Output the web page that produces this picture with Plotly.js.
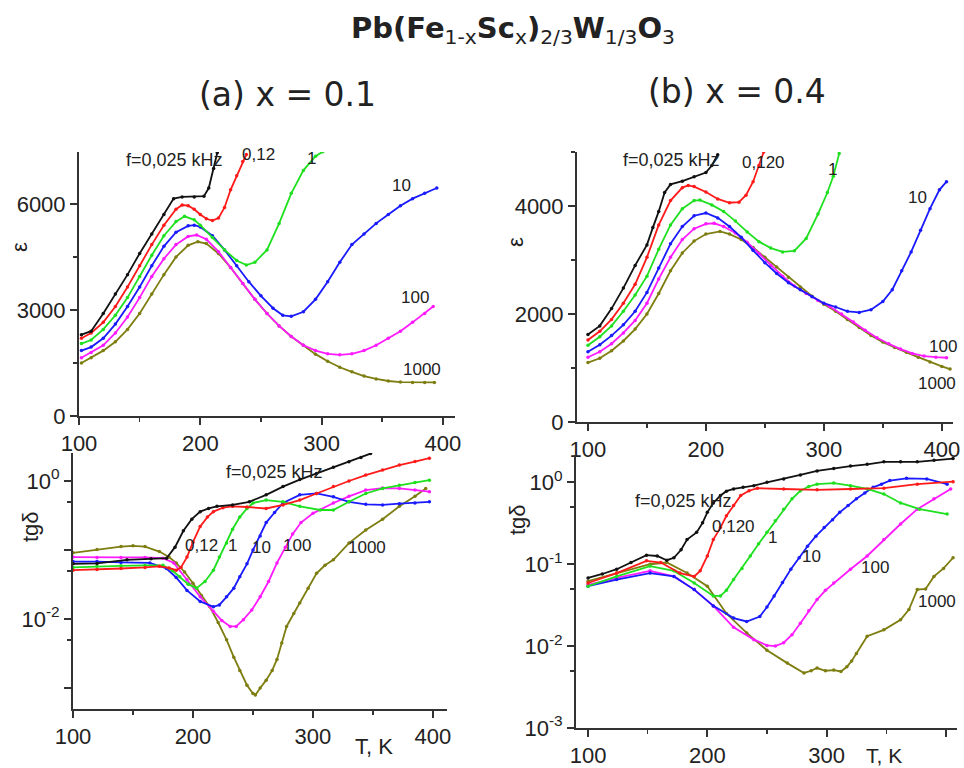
<!DOCTYPE html>
<html>
<head>
<meta charset="utf-8">
<script src="https://cdn.plot.ly/plotly-3.0.1.min.js"></script>
<style>html,body{margin:0;padding:0;background:#fff;}#chart{width:964px;height:768px;}</style>
</head>
<body>
<div id="chart"></div>
<script>
// ---------- (a) x = 0.1 : permittivity ----------
const Ta_e_f0025 = [102,110,120,130,140,150,160,170,178,185,195,203,207,211,214];
const a_e_f0025  = [2300,2400,2900,3450,4000,4600,5150,5700,6150,6200,6200,6220,6450,7000,7450];
const Ta_e_f012  = [102,110,120,130,140,150,160,170,180,185,190,195,200,205,210,215,220,225,230,235,238];
const a_e_f012   = [2200,2350,2650,3100,3650,4250,4850,5400,5850,5970,5950,5850,5700,5580,5530,5600,5900,6400,6800,7200,7400];
const Ta_e_f1    = [102,110,120,130,140,150,160,170,180,187,195,200,210,220,230,238,245,255,265,275,285,295,301];
const a_e_f1     = [2050,2150,2450,2850,3350,3950,4550,5100,5500,5650,5550,5400,5050,4700,4400,4270,4350,4700,5450,6300,6950,7350,7480];
const Ta_e_f10   = [102,110,120,130,140,150,160,170,180,190,195,200,210,220,230,240,250,260,268,275,285,295,305,315,325,335,345,355,365,375,385,395];
const a_e_f10    = [1850,1950,2200,2600,3100,3650,4250,4800,5200,5380,5400,5350,5100,4700,4250,3800,3400,3050,2850,2820,2950,3300,3800,4350,4850,5150,5450,5700,5950,6150,6300,6450];
const Ta_e_f100  = [102,110,120,130,140,150,160,170,180,190,197,205,215,225,235,245,255,265,275,285,295,305,315,325,335,345,355,365,375,385,392];
const a_e_f100   = [1650,1800,2000,2350,2800,3350,3950,4450,4850,5080,5120,5000,4650,4200,3750,3300,2900,2550,2250,2000,1850,1760,1730,1760,1850,2000,2200,2400,2650,2900,3100];
const Ta_e_f1000 = [102,110,120,130,140,150,160,170,180,190,198,205,215,225,235,245,255,265,275,285,295,305,315,325,335,345,355,365,375,385,393];
const a_e_f1000  = [1500,1650,1850,2100,2450,2900,3450,4000,4500,4830,4930,4880,4600,4200,3750,3300,2900,2550,2250,2000,1750,1550,1380,1250,1130,1050,990,960,950,950,950];

// ---------- (a) x = 0.1 : loss tangent ----------
const Ta_t_f0025 = [100,120,145,165,178,185,192,199,206,213,220,233,247,261,275,289,303,317,330,340,348];
const a_t_f0025  = [0.063,0.064,0.072,0.075,0.076,0.11,0.19,0.28,0.36,0.40,0.43,0.45,0.50,0.63,0.83,1.05,1.29,1.58,1.9,2.2,2.5];
const Ta_t_f012  = [100,120,140,160,172,180,186,190,195,200,206,212,217,225,233,245,261,275,289,303,317,330,344,358,372,385,397];
const a_t_f012   = [0.051,0.052,0.054,0.056,0.058,0.055,0.051,0.056,0.079,0.13,0.22,0.30,0.36,0.41,0.43,0.42,0.40,0.45,0.53,0.66,0.83,1.0,1.22,1.45,1.70,1.91,2.14];
const Ta_t_f1    = [100,120,140,160,175,183,189,196,203,210,217,222,228,233,239,245,250,261,275,289,306,317,330,344,358,372,385,397];
const a_t_f1     = [0.056,0.058,0.059,0.060,0.060,0.050,0.041,0.032,0.028,0.035,0.051,0.079,0.126,0.20,0.30,0.40,0.48,0.53,0.50,0.43,0.38,0.38,0.50,0.66,0.78,0.87,0.95,1.03];
const Ta_t_f10   = [100,120,140,164,178,186,195,206,217,222,228,234,239,245,250,256,261,268,275,289,303,317,330,344,358,372,385,397];
const a_t_f10    = [0.068,0.068,0.066,0.065,0.054,0.040,0.026,0.018,0.015,0.016,0.021,0.028,0.041,0.063,0.10,0.16,0.25,0.35,0.48,0.63,0.66,0.59,0.50,0.46,0.45,0.47,0.48,0.50];
const Ta_t_f100  = [100,120,140,160,175,184,195,206,217,224,231,236,242,249,256,263,270,277,283,290,300,317,330,344,358,372,385,397];
const a_t_f100   = [0.079,0.078,0.078,0.078,0.076,0.065,0.037,0.021,0.013,0.0095,0.0078,0.0078,0.0098,0.0135,0.021,0.035,0.065,0.11,0.17,0.25,0.34,0.48,0.60,0.74,0.79,0.78,0.74,0.70];
const Ta_t_f1000 = [100,120,140,150,160,172,180,186,193,200,207,214,221,228,234,239,245,250,252,256,261,266,270,274,278,284,289,296,303,310,317,330,344,358,372,385,394];
const a_t_f1000  = [0.091,0.102,0.112,0.115,0.112,0.095,0.079,0.065,0.048,0.033,0.022,0.015,0.0089,0.0050,0.0028,0.0018,0.0011,0.00083,0.00079,0.0010,0.0013,0.0018,0.0026,0.0045,0.0078,0.012,0.017,0.028,0.046,0.060,0.072,0.126,0.195,0.28,0.43,0.60,0.78];

// ---------- (b) x = 0.4 : permittivity ----------
const Tb_e_f0025 = [100,110,120,130,140,150,155,160,165,170,180,190,200,205,210];
const b_e_f0025  = [1620,1780,2100,2480,2900,3280,3600,3900,4250,4400,4460,4540,4620,4750,4950];
const Tb_e_f012  = [100,110,120,130,140,150,160,170,180,185,190,200,210,220,228,234,240,245,249];
const b_e_f012   = [1520,1680,1900,2200,2550,3050,3650,4100,4340,4380,4360,4260,4130,4060,4070,4200,4450,4750,5000];
const Tb_e_f1    = [100,110,120,130,140,150,160,170,180,190,195,205,215,225,235,245,255,265,275,285,295,303,308,313];
const b_e_f1     = [1420,1580,1780,2050,2350,2700,3200,3650,3950,4100,4110,4020,3900,3720,3520,3340,3220,3150,3170,3400,3850,4250,4550,4970];
const Tb_e_f10   = [100,110,120,130,140,150,160,170,180,190,200,210,220,230,240,250,260,270,280,290,300,310,320,330,340,350,358,366,374,382,390,398,404];
const b_e_f10    = [1300,1430,1600,1800,2050,2400,2850,3300,3620,3820,3870,3780,3620,3420,3180,2950,2750,2580,2450,2320,2200,2130,2050,2030,2080,2230,2450,2800,3150,3550,3950,4300,4450];
const Tb_e_f100  = [100,110,120,130,140,150,160,170,180,190,200,207,215,225,235,245,255,265,275,285,295,305,315,325,335,345,355,365,375,385,395,404];
const b_e_f100   = [1200,1300,1450,1650,1880,2200,2650,3050,3380,3580,3670,3680,3620,3500,3330,3120,2900,2700,2520,2380,2250,2140,2000,1850,1700,1560,1450,1350,1270,1220,1200,1190];
const Tb_e_f1000 = [100,110,120,130,140,150,160,170,180,190,200,212,220,230,240,250,260,270,280,290,300,310,320,330,340,350,360,370,380,390,400,407];
const b_e_f1000  = [1100,1180,1320,1500,1720,2000,2380,2800,3130,3350,3480,3530,3480,3380,3230,3050,2870,2680,2500,2330,2180,2050,1900,1750,1600,1480,1380,1290,1200,1110,1030,980];

// ---------- (b) x = 0.4 : loss tangent ----------
const Tb_t_f0025 = [100,112,124,136,149,158,166,172,178,183,191,196,200,205,211,216,222,230,239,250,264,278,292,306,320,334,348,362,376,390,406];
const b_t_f0025  = [0.068,0.076,0.087,0.105,0.129,0.126,0.112,0.12,0.15,0.20,0.245,0.32,0.43,0.56,0.69,0.78,0.83,0.87,0.91,1.0,1.10,1.23,1.38,1.48,1.58,1.66,1.78,1.78,1.78,1.86,1.95];
const Tb_t_f012  = [100,124,149,161,177,189,194,200,205,211,216,222,228,235,242,264,292,320,348,376,406];
const b_t_f012   = [0.059,0.078,0.11,0.105,0.078,0.071,0.083,0.126,0.20,0.28,0.39,0.52,0.69,0.79,0.85,0.83,0.81,0.83,0.85,0.95,1.02];
const Tb_t_f1    = [100,124,152,172,189,205,211,216,222,229,236,243,250,257,264,271,278,285,292,306,320,334,348,362,378,401];
const b_t_f1     = [0.054,0.071,0.095,0.083,0.059,0.041,0.041,0.048,0.065,0.089,0.126,0.178,0.245,0.34,0.47,0.63,0.79,0.89,0.95,0.98,0.91,0.83,0.72,0.56,0.47,0.41];
const Tb_t_f10   = [100,124,152,172,189,205,222,233,244,250,256,263,270,277,284,291,298,305,311,318,325,332,339,346,353,367,384,401];
const b_t_f10    = [0.054,0.065,0.078,0.071,0.049,0.031,0.022,0.020,0.023,0.030,0.041,0.060,0.087,0.12,0.166,0.22,0.28,0.35,0.43,0.52,0.63,0.74,0.87,0.95,1.05,1.12,1.10,0.95];
const Tb_t_f100  = [100,124,152,172,189,205,222,239,250,257,264,271,278,285,292,299,306,320,334,348,362,376,390,404];
const b_t_f100   = [0.056,0.068,0.083,0.071,0.049,0.031,0.017,0.012,0.0102,0.0100,0.011,0.0138,0.019,0.027,0.037,0.048,0.059,0.087,0.126,0.20,0.31,0.47,0.63,0.83];
const Tb_t_f1000 = [100,124,152,166,183,200,216,233,250,267,281,287,292,299,306,312,317,321,325,334,348,362,369,376,383,390,398,406];
const b_t_f1000  = [0.062,0.078,0.10,0.105,0.078,0.054,0.025,0.0145,0.0089,0.0062,0.0047,0.0050,0.0054,0.0050,0.0051,0.0049,0.0056,0.0066,0.0081,0.0132,0.0158,0.021,0.028,0.049,0.050,0.071,0.089,0.12];

// ---------- ticks and labels ----------
const linTicksT = [100,200,300,400];
const epsTicksA = [0,3000,6000];
const epsTicksB = [0,2000,4000];
const logTickVals = [0.001,0.01,0.1,1];
const logTickTextA = [" "," 10<sup>-2</sup>"," "," 10<sup>0</sup>"];
const logTickTextB = ["10<sup>-3</sup>","10<sup>-2</sup>","10<sup>-1</sup>","10<sup>0</sup>"];
const logMinorVals = [0.005,0.05,0.5];
const seriesColors = ["#111111","#ff1a1a","#1ee01e","#1a1aff","#ff1aff","#7d7d10"];

const W = 964, H = 768;
const px = v => v / W, py = v => 1 - v / H;

function tr(x, y, c, xa, ya) {
  return {x: x, y: y, type: 'scatter', mode: 'lines+markers', xaxis: xa, yaxis: ya,
    line: {color: c, width: 1.8}, marker: {color: c, size: 3.5}, hoverinfo: 'skip'};
}
const C = seriesColors;
const data = [
  tr(Ta_e_f1000, a_e_f1000, C[5], 'x', 'y'),
  tr(Ta_e_f100, a_e_f100, C[4], 'x', 'y'),
  tr(Ta_e_f10, a_e_f10, C[3], 'x', 'y'),
  tr(Ta_e_f1, a_e_f1, C[2], 'x', 'y'),
  tr(Ta_e_f012, a_e_f012, C[1], 'x', 'y'),
  tr(Ta_e_f0025, a_e_f0025, C[0], 'x', 'y'),

  tr(Ta_t_f1000, a_t_f1000, C[5], 'x2', 'y2'),
  tr(Ta_t_f100, a_t_f100, C[4], 'x2', 'y2'),
  tr(Ta_t_f10, a_t_f10, C[3], 'x2', 'y2'),
  tr(Ta_t_f1, a_t_f1, C[2], 'x2', 'y2'),
  tr(Ta_t_f012, a_t_f012, C[1], 'x2', 'y2'),
  tr(Ta_t_f0025, a_t_f0025, C[0], 'x2', 'y2'),

  tr(Tb_e_f1000, b_e_f1000, C[5], 'x3', 'y3'),
  tr(Tb_e_f100, b_e_f100, C[4], 'x3', 'y3'),
  tr(Tb_e_f10, b_e_f10, C[3], 'x3', 'y3'),
  tr(Tb_e_f1, b_e_f1, C[2], 'x3', 'y3'),
  tr(Tb_e_f012, b_e_f012, C[1], 'x3', 'y3'),
  tr(Tb_e_f0025, b_e_f0025, C[0], 'x3', 'y3'),

  tr(Tb_t_f1000, b_t_f1000, C[5], 'x4', 'y4'),
  tr(Tb_t_f100, b_t_f100, C[4], 'x4', 'y4'),
  tr(Tb_t_f10, b_t_f10, C[3], 'x4', 'y4'),
  tr(Tb_t_f1, b_t_f1, C[2], 'x4', 'y4'),
  tr(Tb_t_f012, b_t_f012, C[1], 'x4', 'y4'),
  tr(Tb_t_f0025, b_t_f0025, C[0], 'x4', 'y4')
];

const tickFont = {family: 'Liberation Sans, Arial, sans-serif', size: 22, color: '#222'};
function ax(extra) {
  return Object.assign({
    showline: true, linecolor: '#333', linewidth: 2, mirror: false,
    ticks: 'outside', ticklen: 7, tickwidth: 2, tickcolor: '#333',
    showgrid: false, zeroline: false, tickfont: tickFont, fixedrange: true
  }, extra);
}
const minorLin = d => ({ticks: 'outside', ticklen: 4, tickwidth: 1.5, tickcolor: '#333', dtick: d, showgrid: false});
const minorLog = {ticks: 'outside', ticklen: 4, tickwidth: 1.5, tickcolor: '#333', tickmode: 'array', tickvals: logMinorVals, showgrid: false};

const lblFont = {family: 'Liberation Sans, Arial, sans-serif', size: 17, color: '#222'};
function lab(text, x, y, xr, yr, size) {
  return {text: text, x: x, y: y, xref: xr, yref: yr, showarrow: false,
    font: Object.assign({}, lblFont, size ? {size: size} : {}), xanchor: 'center', yanchor: 'middle'};
}
function paperText(text, x, y, size, angle, family) {
  return {text: text, x: px(x), y: py(y), xref: 'paper', yref: 'paper', showarrow: false,
    textangle: angle || 0, xanchor: 'center', yanchor: 'middle',
    font: {family: family || 'DejaVu Sans, sans-serif', size: size, color: '#222'}};
}
const sansFam = 'Liberation Sans, Arial, sans-serif';

const layout = {
  width: W, height: H,
  margin: {l: 0, r: 0, t: 0, b: 0},
  paper_bgcolor: '#fff', plot_bgcolor: '#fff',
  showlegend: false,
  title: {
    text: '<b>Pb(Fe</b><sub>1-x</sub><b>Sc</b><sub>x</sub><b>)</b><sub>2/3</sub><b>W</b><sub>1/3</sub><b>O</b><sub>3</sub>',
    x: px(513), xanchor: 'center', xref: 'paper',
    y: py(28), yanchor: 'middle', yref: 'paper',
    font: {family: 'DejaVu Sans, sans-serif', size: 29, color: '#222'}
  },
  xaxis: ax({domain: [px(79), px(455)], range: [100, 410], anchor: 'y', tickmode: 'array', tickvals: linTicksT, minor: minorLin(50)}),
  yaxis: ax({domain: [py(416), py(152)], range: [0, 7470], anchor: 'x', tickmode: 'array', tickvals: epsTicksA, minor: minorLin(1500)}),
  xaxis2: ax({domain: [px(73), px(447)], range: [100, 411.7], anchor: 'y2', tickmode: 'array', tickvals: linTicksT, minor: minorLin(50)}),
  yaxis2: ax({domain: [py(709), py(453)], type: 'log', range: [-3.304, 0.406], anchor: 'x2', tickmode: 'array', tickvals: logTickVals, ticktext: logTickTextA, minor: minorLog}),
  xaxis3: ax({domain: [px(577), px(953)], range: [90.7, 409.5], anchor: 'y3', tickmode: 'array', tickvals: linTicksT, minor: minorLin(50)}),
  yaxis3: ax({domain: [py(422), py(152)], range: [0, 5000], anchor: 'x3', tickmode: 'array', tickvals: epsTicksB, minor: minorLin(1000)}),
  xaxis4: ax({domain: [px(576), px(957)], range: [89.9, 409.3], anchor: 'y4', tickmode: 'array', tickvals: linTicksT, minor: minorLin(50)}),
  yaxis4: ax({domain: [py(728), py(455)], type: 'log', range: [-3, 0.334], anchor: 'x4', tickmode: 'array', tickvals: logTickVals, ticktext: logTickTextB, minor: minorLog}),
  annotations: [
    paperText('(a) x = 0.1', 287, 95, 33),
    paperText('(b) x = 0.4', 737, 92, 33),
    paperText('ε', 20, 247, 22, -90, sansFam),
    paperText('tgδ', 30, 527, 22, -90, sansFam),
    paperText('ε', 515, 242, 22, -90, sansFam),
    paperText('tgδ', 517, 520, 22, -90, sansFam),
    paperText('T, K', 374, 746, 22, 0, sansFam),
    paperText('T, K', 884, 755, 21, 0, sansFam),
    // (a) epsilon labels
    lab('f=0,025 kHz', 179, 7245, 'x', 'y', 18),
    lab('0,12', 247.6, 7385, 'x', 'y'),
    lab('1', 292, 7300, 'x', 'y'),
    lab('10', 366, 6536, 'x', 'y'),
    lab('100', 377, 3367, 'x', 'y'),
    lab('1000', 383, 1330, 'x', 'y'),
    // (a) tg labels (log axis -> log10 coordinates)
    lab('f=0,025 kHz', 268, 0.13, 'x2', 'y2', 18),
    lab('0,12', 206.7, -0.93, 'x2', 'y2'),
    lab('1', 233, -0.93, 'x2', 'y2'),
    lab('10', 257.5, -0.96, 'x2', 'y2'),
    lab('100', 286.7, -0.93, 'x2', 'y2'),
    lab('1000', 345, -0.97, 'x2', 'y2'),
    // (b) epsilon labels
    lab('f=0,025 kHz', 171, 4850, 'x3', 'y3', 18),
    lab('0,120', 249, 4800, 'x3', 'y3'),
    lab('1', 307.6, 4670, 'x3', 'y3'),
    lab('10', 379.7, 4150, 'x3', 'y3'),
    lab('100', 400.8, 1390, 'x3', 'y3'),
    lab('1000', 395.8, 720, 'x3', 'y3'),
    // (b) tg labels
    lab('f=0,025 kHz', 179.6, -0.233, 'x4', 'y4', 18),
    lab('0,120', 222, -0.54, 'x4', 'y4'),
    lab('1', 255, -0.67, 'x4', 'y4'),
    lab('10', 287.7, -0.91, 'x4', 'y4'),
    lab('100', 340.5, -1.04, 'x4', 'y4'),
    lab('1000', 392.5, -1.46, 'x4', 'y4')
  ]
};

Plotly.newPlot('chart', data, layout, {staticPlot: true, displayModeBar: false});
</script>
</body>
</html>
